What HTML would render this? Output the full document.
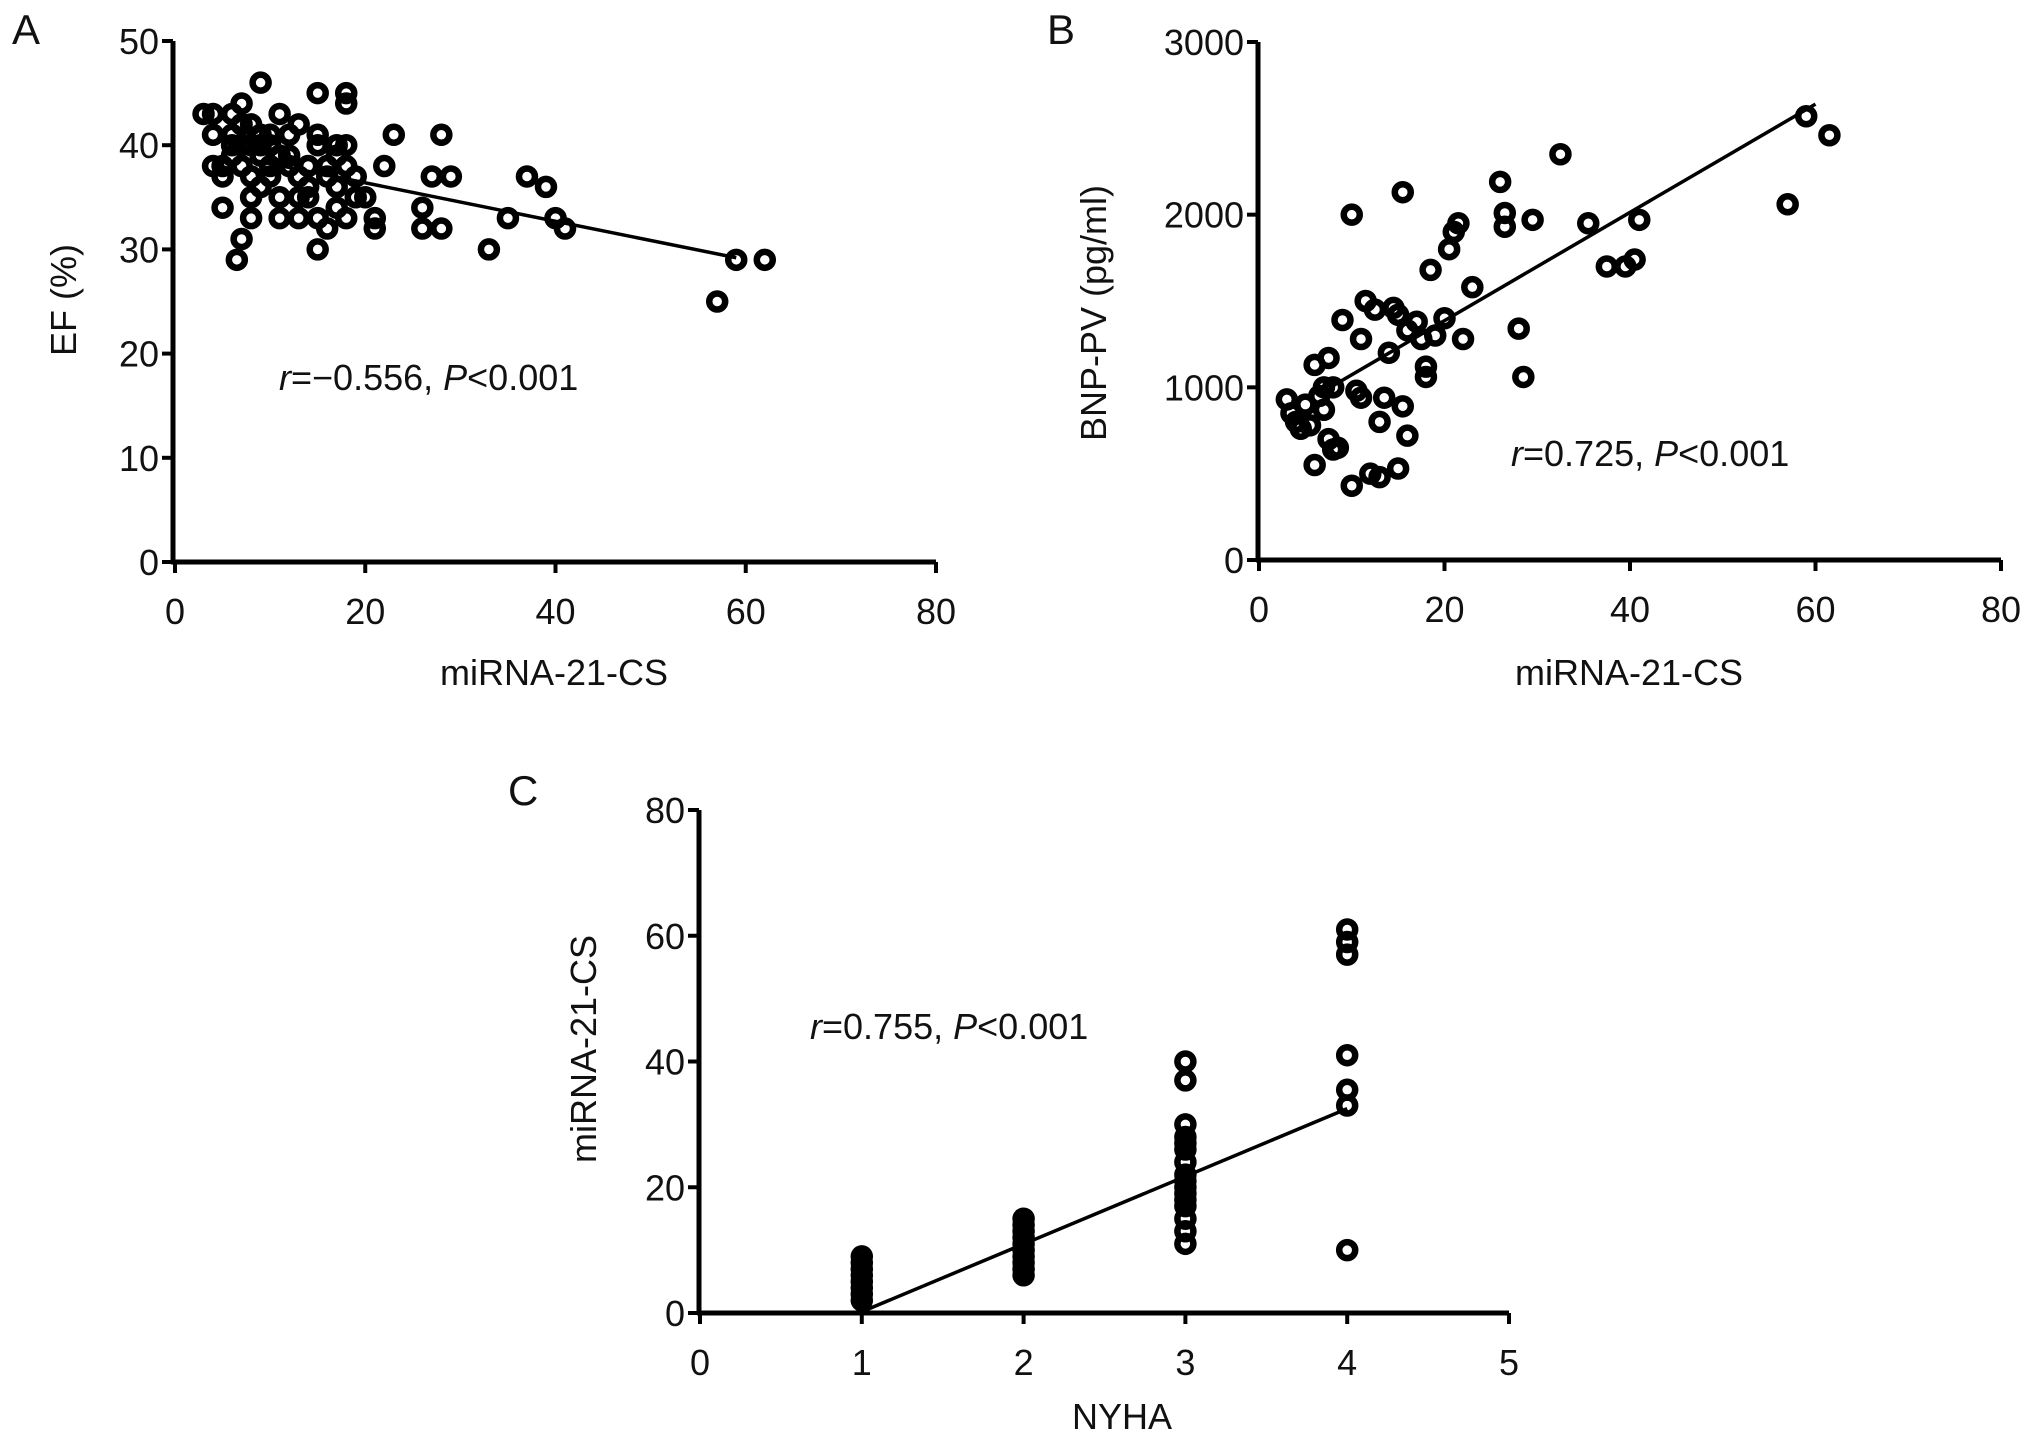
<!DOCTYPE html>
<html><head><meta charset="utf-8">
<style>
html,body{margin:0;padding:0;background:#fff;}
svg{display:block;}
text{font-family:"Liberation Sans",Arial,sans-serif;fill:#111;}
</style></head>
<body>
<svg id="fig" width="2031" height="1440" viewBox="0 0 2031 1440"></svg>
<script>
// Panel A data: miRNA-21-CS vs EF (%)
const aX = [3,4,4,4,5,5,6,6,7,7,7,6.5,7,8,8,8,8,9,9,9,10,10,11,11,11,12,12,13,13,13,14,14,15,15,15,15,16,16,17,17,17,18,18,18,18,18,19,20,21,21,22,23,26,26,27,28,28,29,33,35,37,39,40,41,57,59,62,6,7,8,9,10,10,12,14,16,9,11,13,15,17,19,5,6];
const aY = [43,43,41,38,37,38,43,41,44,42,40,29,31,35,37,33,40,46,41,39,40,38,43,33,35,41,38,42,35,33,38,35,45,41,30,33,38,32,40,36,34,45,44,40,38,33,37,35,33,32,38,41,34,32,37,41,32,37,30,33,37,36,33,32,25,29,29,39,38,42,40,41,37,39,36,37,36,39,37,40,39,35,34,40,37];
const aXTicks = [0,20,40,60,80];
const aYTicks = [0,10,20,30,40,50];
const aFit = [[8,38.6],[59,29.2]];

// Panel B data: miRNA-21-CS vs BNP-PV
const bX = [3,3.5,4,4.5,5,5.5,6,6,6.5,7,7,7.5,7.5,8,8,8.5,9,10,10,10.5,11,11,11.5,12,12.5,13,13,13.5,14,14.5,15,15,15.5,15.5,16,16,17,17.5,18,18,18.5,19,20,20.5,21,21.5,22,23,26,26.5,26.5,28,28.5,29.5,32.5,35.5,37.5,39.5,40.5,41,57,59,61.5];
const bY = [930,850,800,760,900,780,550,1130,950,1000,870,1170,700,640,1000,650,1390,2000,430,980,1280,940,1500,500,1450,480,800,940,1200,1460,530,1420,2130,890,720,1330,1380,1280,1120,1060,1680,1300,1400,1800,1900,1950,1280,1580,2190,2010,1930,1340,1060,1970,2350,1950,1700,1700,1740,1970,2060,2570,2460];
const bXTicks = [0,20,40,60,80];
const bYTicks = [0,1000,2000,3000];
const bFit = [[8,1010],[60,2640]];

// Panel C data: NYHA vs miRNA-21-CS
const cX = [1,1,1,1,1,1,1,1,2,2,2,2,2,2,2,2,2,2,3,3,3,3,3,3,3,3,3,3,3,3,3,3,3,3,4,4,4,4,4,4,4];
const cY = [2,3,4,5,6,7,8,9,6,7,8,9,10,11,12,13,14,15,11,13,15,17,18,19,20,21,22,24,26,27,28,30,37,40,10,33,35.5,41,57,59,61];
const cXTicks = [0,1,2,3,4,5];
const cYTicks = [0,20,40,60,80];
const cFit = [[1,0.2],[4,32.5]];

const NS = "http://www.w3.org/2000/svg";
const svg = document.getElementById('fig');
function el(tag, attrs, parent){
  const e = document.createElementNS(NS, tag);
  for (const k in attrs) e.setAttribute(k, attrs[k]);
  (parent||svg).appendChild(e);
  return e;
}
function txt(s, x, y, size, anchor, parent){
  const t = el('text', {x:x, y:y, 'font-size':size, 'text-anchor':anchor||'middle'}, parent);
  t.textContent = s;
  return t;
}

function panel(cfg){
  const g = el('g', {});
  
  
  const sx = v => cfg.x0 + (v - cfg.xmin) / (cfg.xmax - cfg.xmin) * (cfg.x1 - cfg.x0);
  const sy = v => cfg.y0 - (v - cfg.ymin) / (cfg.ymax - cfg.ymin) * (cfg.y0 - cfg.y1);
  const ya = el('line', {x1:cfg.ax, y1:cfg.y1, x2:cfg.ax, y2:cfg.y0+2, stroke:'#000', 'stroke-width':5}, g);
  
  
  const xa = el('line', {x1:cfg.ax-2, y1:cfg.y0, x2:cfg.x1, y2:cfg.y0, stroke:'#000', 'stroke-width':5}, g);
  
  
  cfg.xt.forEach(v => {
    const X = sx(v);
    const tk = el('line', {x1:X, y1:cfg.y0, x2:X, y2:cfg.y0+11, stroke:'#000', 'stroke-width':4}, g);
    
    
    const lb = txt(String(v), X, cfg.y0+62, 36, 'middle', g);
    
    
  });
  cfg.yt.forEach(v => {
    const Y = sy(v);
    const tk = el('line', {x1:cfg.ax-11, y1:Y, x2:cfg.ax, y2:Y, stroke:'#000', 'stroke-width':4}, g);
    
    
    const lb = txt(String(v), cfg.ax-14, Y+13, 36, 'end', g);
    
    
  });
  const fl = el('line', {x1:sx(cfg.fit[0][0]), y1:sy(cfg.fit[0][1]), x2:sx(cfg.fit[1][0]), y2:sy(cfg.fit[1][1]), stroke:'#000', 'stroke-width':3.5}, g);
  
  
  cfg.xs.forEach((v, i) => {
    const c = el('circle', {cx:sx(v), cy:sy(cfg.ys[i]), r:8, fill:'none', stroke:'#000', 'stroke-width':6.5}, g);
    
    
  });
  const pl = txt(cfg.letter, cfg.lx, cfg.ly, 42, 'start', g);
  
  
  const xt = txt(cfg.xtitle, cfg.xtx, cfg.xty, 36, 'middle', g);
  
  
  const yt = txt(cfg.ytitle, 0, 0, 36, 'middle', g);
  yt.setAttribute('transform', 'translate(' + cfg.ytx + ',' + cfg.yty + ') rotate(-90)');
  
  
  const an = el('text', {x:cfg.anx, y:cfg.any, 'font-size':36}, g);
  
  
  an.innerHTML = '<tspan font-style="italic">r</tspan>' + cfg.rtext + ', <tspan font-style="italic">P</tspan>&lt;0.001';
}

panel({name:'panel-a', letter:'A', lx:12, ly:44, xs:aX, ys:aY, xt:aXTicks, yt:aYTicks, fit:aFit,
  xmin:0, xmax:80, ymin:0, ymax:50, ax:173, x0:175, x1:936, y0:562, y1:41,
  xtitle:'miRNA-21-CS', xtx:554, xty:685, ytitle:'EF (%)', ytx:76, yty:300,
  anx:279, any:390, rtext:'=\u22120.556'});
panel({name:'panel-b', letter:'B', lx:1047, ly:44, xs:bX, ys:bY, xt:bXTicks, yt:bYTicks, fit:bFit,
  xmin:0, xmax:80, ymin:0, ymax:3000, ax:1258, x0:1259, x1:2001, y0:560, y1:42,
  xtitle:'miRNA-21-CS', xtx:1629, xty:685, ytitle:'BNP-PV (pg/ml)', ytx:1106, yty:313,
  anx:1511, any:466, rtext:'=0.725'});
panel({name:'panel-c', letter:'C', lx:508, ly:805, xs:cX, ys:cY, xt:cXTicks, yt:cYTicks, fit:cFit,
  xmin:0, xmax:5, ymin:0, ymax:80, ax:699, x0:700, x1:1509, y0:1313, y1:810,
  xtitle:'NYHA', xtx:1122, xty:1429, ytitle:'miRNA-21-CS', ytx:596, yty:1049,
  anx:810, any:1039, rtext:'=0.755'});
</script>
</body></html>
